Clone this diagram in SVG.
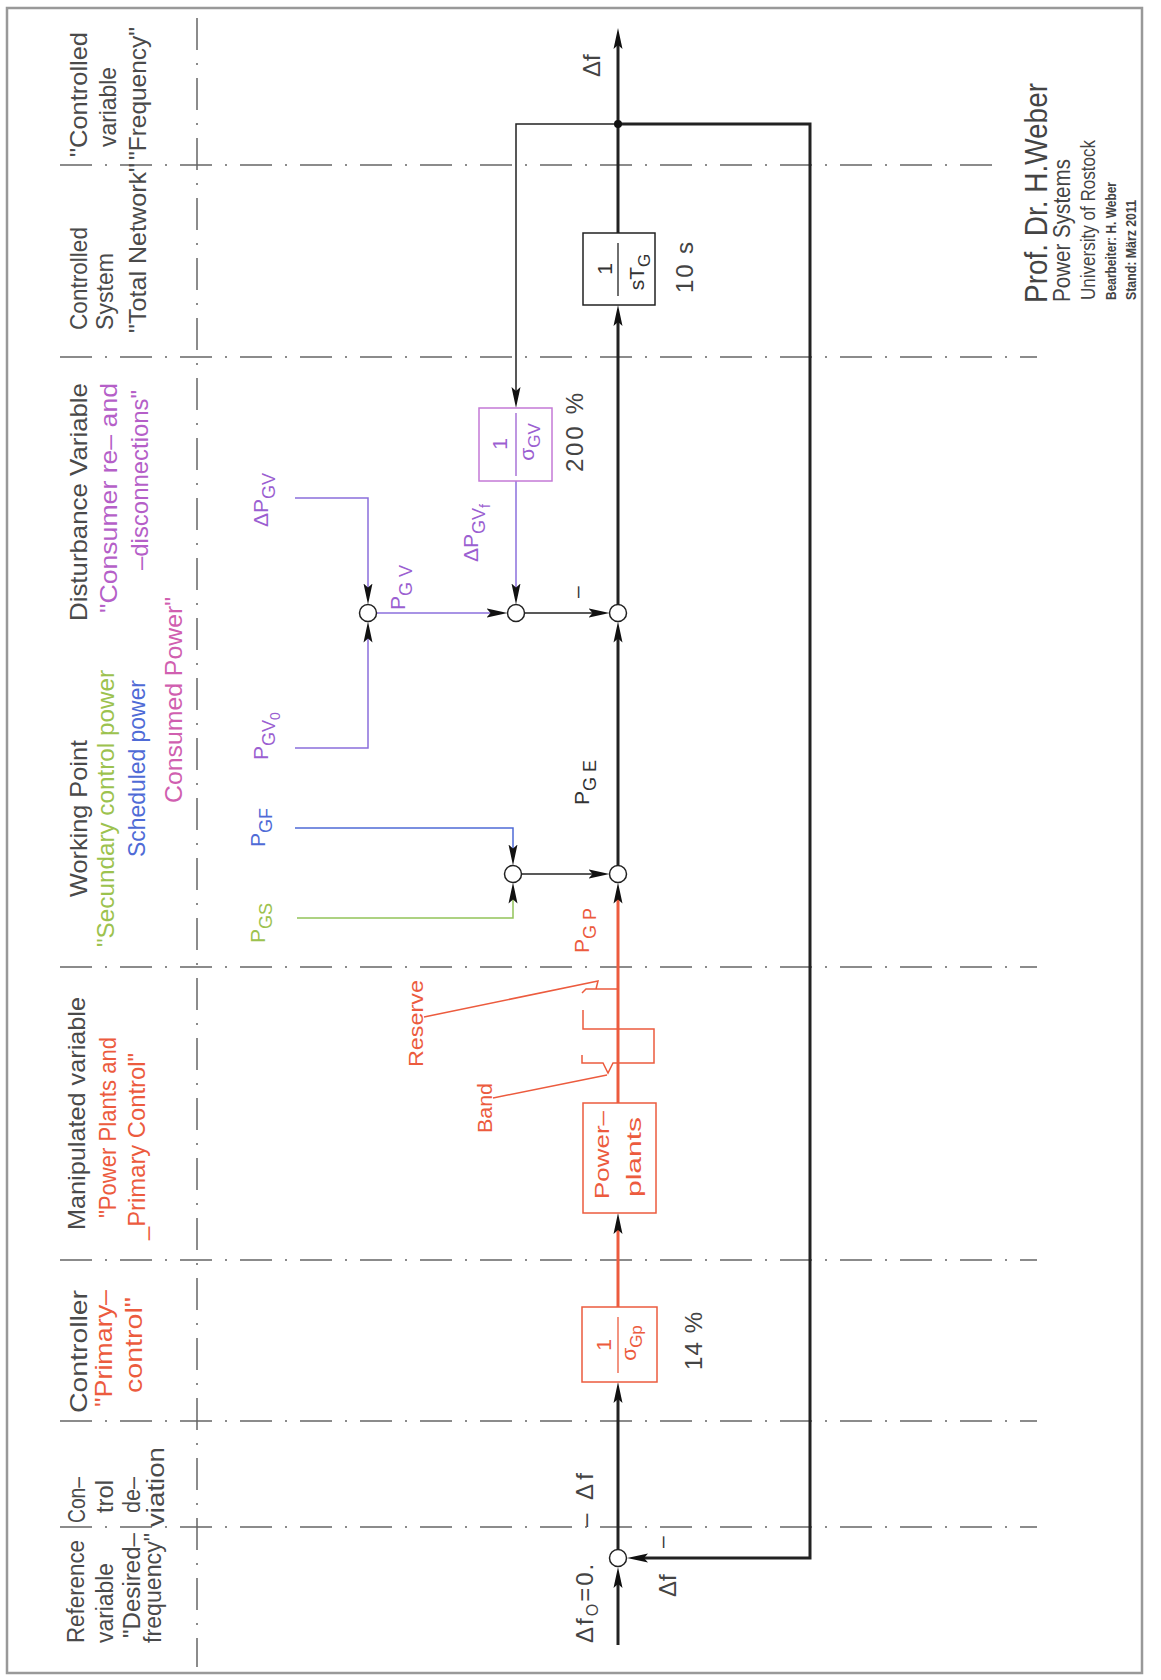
<svg xmlns="http://www.w3.org/2000/svg" width="1161" height="1680" viewBox="0 0 1161 1680">
<style>
.h{font-family:"Liberation Sans",Arial,sans-serif;font-size:24px;fill:#4a4a4a}
.h4{font-family:"Liberation Sans",Arial,sans-serif;font-size:23px;fill:#4a4a4a}
.lp{font-family:"Liberation Sans",Arial,sans-serif;font-size:21px}
.num{font-family:"Liberation Sans",Arial,sans-serif;font-size:24px;fill:#444}
.cr{font-family:"Liberation Sans",Arial,sans-serif;fill:#444}
.dd{stroke:#666;stroke-width:1.5;stroke-dasharray:32 13 2 13;fill:none}
.thick{stroke:#222;stroke-width:3;fill:none}
.thin{stroke:#222;stroke-width:1.5;fill:none}
.redT{stroke:#ec5b3e;stroke-width:3;fill:none}
.redt{stroke:#ec5b3e;stroke-width:1.5;fill:none}
.purl{stroke:#8b6fdc;stroke-width:1.5;fill:none}
.bluel{stroke:#4f6bd6;stroke-width:1.5;fill:none}
.greenl{stroke:#93c45a;stroke-width:1.5;fill:none}
.sum{fill:#fff;stroke:#222;stroke-width:1.5}
.red{fill:#ec5b3e}
.pur{fill:#9b5fd1}
.mag{fill:#b55fc8}
.pink{fill:#d05fb0}
.blue{fill:#4f6bd6}
.green{fill:#9cc24e}
.blk{fill:#333}
</style>
<defs>
<marker id="ah" markerUnits="userSpaceOnUse" markerWidth="22" markerHeight="10" viewBox="0 0 22 10" refX="11" refY="5" orient="auto">
<path d="M0,0.5 L21,5 L0,9.5 L4,5 z" fill="#111"/>
</marker>
</defs>
<rect x="0" y="0" width="1161" height="1680" fill="#fff"/>
<rect x="7" y="8" width="1135" height="1665" fill="none" stroke="#999" stroke-width="2.5"/>

<g id="grid">
<line class="dd" x1="197" y1="18" x2="197" y2="1667"/>
<line class="dd" x1="60" y1="165" x2="1000" y2="165"/>
<line class="dd" x1="60" y1="357" x2="1037" y2="357"/>
<line class="dd" x1="60" y1="967" x2="1037" y2="967"/>
<line class="dd" x1="60" y1="1260" x2="1037" y2="1260"/>
<line class="dd" x1="60" y1="1421" x2="1037" y2="1421"/>
<line class="dd" x1="60" y1="1527" x2="1037" y2="1527"/>
</g>

<g id="headers">
<text class="h" transform="translate(87 157) rotate(-90)" textLength="125" lengthAdjust="spacingAndGlyphs">"Controlled</text>
<text class="h" transform="translate(116 147) rotate(-90)" textLength="80" lengthAdjust="spacingAndGlyphs">variable</text>
<text class="h" transform="translate(146 160) rotate(-90)" textLength="133" lengthAdjust="spacingAndGlyphs">"Frequency"</text>

<text class="h" transform="translate(87 330) rotate(-90)" textLength="103" lengthAdjust="spacingAndGlyphs">Controlled</text>
<text class="h" transform="translate(113 330) rotate(-90)" textLength="77" lengthAdjust="spacingAndGlyphs">System</text>
<text class="h" transform="translate(146 333) rotate(-90)" textLength="170" lengthAdjust="spacingAndGlyphs">"Total Network"</text>

<text class="h" transform="translate(87 621) rotate(-90)" textLength="238" lengthAdjust="spacingAndGlyphs">Disturbance Variable</text>
<text class="h mag" transform="translate(117 613) rotate(-90)" textLength="230" lengthAdjust="spacingAndGlyphs">"Consumer re– and</text>
<text class="h mag" transform="translate(148 570) rotate(-90)" textLength="180" lengthAdjust="spacingAndGlyphs">–disconnections"</text>

<text class="h" transform="translate(87 897) rotate(-90)" textLength="157" lengthAdjust="spacingAndGlyphs">Working Point</text>
<text class="h green" transform="translate(114 947) rotate(-90)" textLength="277" lengthAdjust="spacingAndGlyphs">"Secundary control power</text>
<text class="h blue" transform="translate(145 857) rotate(-90)" textLength="177" lengthAdjust="spacingAndGlyphs">Scheduled power</text>
<text class="h pink" transform="translate(182 803) rotate(-90)" textLength="206" lengthAdjust="spacingAndGlyphs">Consumed Power"</text>

<text class="h" transform="translate(85 1230) rotate(-90)" textLength="233" lengthAdjust="spacingAndGlyphs">Manipulated variable</text>
<text class="h red" transform="translate(116 1218) rotate(-90)" textLength="181" lengthAdjust="spacingAndGlyphs">"Power Plants and</text>
<text class="h red" transform="translate(145 1240) rotate(-90)" textLength="187" lengthAdjust="spacingAndGlyphs">_Primary Control"</text>

<text class="h" transform="translate(87 1413) rotate(-90)" textLength="123" lengthAdjust="spacingAndGlyphs">Controller</text>
<text class="h red" transform="translate(112 1407) rotate(-90)" textLength="117" lengthAdjust="spacingAndGlyphs">"Primary–</text>
<text class="h red" transform="translate(142 1393) rotate(-90)" textLength="96" lengthAdjust="spacingAndGlyphs">control"</text>

<text class="h4" transform="translate(85 1523) rotate(-90)" textLength="46" lengthAdjust="spacingAndGlyphs">Con–</text>
<text class="h4" transform="translate(113 1513) rotate(-90)" textLength="33" lengthAdjust="spacingAndGlyphs">trol</text>
<text class="h4" transform="translate(140 1513) rotate(-90)" textLength="36" lengthAdjust="spacingAndGlyphs">de–</text>
<text class="h4" transform="translate(164 1527) rotate(-90)" textLength="80" lengthAdjust="spacingAndGlyphs">viation</text>

<text class="h4" transform="translate(84 1643) rotate(-90)" textLength="103" lengthAdjust="spacingAndGlyphs">Reference</text>
<text class="h4" transform="translate(113 1643) rotate(-90)" textLength="80" lengthAdjust="spacingAndGlyphs">variable</text>
<text class="h4" transform="translate(140 1638) rotate(-90)" textLength="105" lengthAdjust="spacingAndGlyphs">"Desired–</text>
<text class="h4" transform="translate(161 1643) rotate(-90)" textLength="110" lengthAdjust="spacingAndGlyphs">frequency"</text>
</g>

<g id="connectors">
<path class="thick" d="M618 1645 V1577" marker-end="url(#ah)"/>
<path class="thick" d="M618 124 H810 V1558 H637" marker-end="url(#ah)"/>
<path class="thick" d="M618 1549.5 V1392" marker-end="url(#ah)"/>
<path class="thick" d="M618 233 V38" marker-end="url(#ah)"/>
<path class="thick" d="M618 604.5 V315" marker-end="url(#ah)"/>
<path class="thick" d="M618 865.5 V631.5" marker-end="url(#ah)"/>
<path class="redT" d="M618 1307 V1223" marker-end="url(#ah)"/>
<path class="redT" d="M618 1103 V892.5" marker-end="url(#ah)"/>
<path class="thin" d="M618 124 H516 V398" marker-end="url(#ah)"/>
<path class="thin" d="M521.5 874 H599.5" marker-end="url(#ah)"/>
<path class="thin" d="M524.5 613 H599.5" marker-end="url(#ah)"/>
<path class="purl" d="M516 481 V594.5" marker-end="url(#ah)"/>
<path class="purl" d="M376.5 613 H497.5" marker-end="url(#ah)"/>
<path class="purl" d="M295 498 H368 V594.5" marker-end="url(#ah)"/>
<path class="purl" d="M295 748 H368 V631.5" marker-end="url(#ah)"/>
<path class="bluel" d="M295 828 H513 V855.5" marker-end="url(#ah)"/>
<path class="greenl" d="M297 918 H513 V892.5" marker-end="url(#ah)"/>
<circle cx="618" cy="124" r="4" fill="#111"/>
<path class="redt" d="M424 1017 L598 981 L596 989 M582 993 L586 989 H618"/>
<path class="redt" d="M583 1010 V1029 H654 V1063 H613 L608 1073 L603 1063 H582 V1055"/>
<path class="redt" d="M493 1098 L607 1075"/>
</g>

<g id="sum-ref"><circle class="sum" cx="618" cy="1558" r="8.5"/></g>
<g id="sum-wp"><circle class="sum" cx="618" cy="874" r="8.5"/></g>
<g id="sum-dist"><circle class="sum" cx="618" cy="613" r="8.5"/></g>
<g id="sum-gs"><circle class="sum" cx="513" cy="874" r="8.5"/></g>
<g id="sum-gv"><circle class="sum" cx="516" cy="613" r="8.5"/></g>
<g id="sum-gv0"><circle class="sum" cx="368" cy="613" r="8.5"/></g>

<g id="box-stg">
<rect x="583" y="233" width="72" height="72" fill="#fff" stroke="#222" stroke-width="1.5"/>
<line x1="618" y1="243" x2="618" y2="296" stroke="#222" stroke-width="1.3"/>
<text class="lp blk" font-size="19" text-anchor="middle" transform="translate(612 269) rotate(-90)">1</text>
<text class="lp blk" text-anchor="middle" transform="translate(644 272) rotate(-90)">sT<tspan dy="6" font-size="17">G</tspan></text>
</g>

<g id="box-sgv">
<rect x="479" y="408" width="73" height="73" fill="#fff" stroke="#c47ad6" stroke-width="1.5"/>
<line x1="516" y1="413" x2="516" y2="476" stroke="#9b5fd1" stroke-width="1.3"/>
<text class="lp pur" font-size="19" text-anchor="middle" transform="translate(507 444) rotate(-90)">1</text>
<text class="lp pur" text-anchor="middle" transform="translate(534 442) rotate(-90)">σ<tspan dy="6" font-size="17">GV</tspan></text>
</g>

<g id="box-sgp">
<rect x="582" y="1307" width="75" height="75" fill="#fff" stroke="#ec5b3e" stroke-width="1.5"/>
<line x1="618" y1="1317" x2="618" y2="1373" stroke="#ec5b3e" stroke-width="1.3"/>
<text class="lp red" font-size="19" text-anchor="middle" transform="translate(611 1345) rotate(-90)">1</text>
<text class="lp red" text-anchor="middle" transform="translate(636 1343) rotate(-90)">σ<tspan dy="6" font-size="17">Gp</tspan></text>
</g>

<g id="box-plants">
<rect x="583" y="1103" width="73" height="110" fill="#fff" stroke="#ec5b3e" stroke-width="1.5"/>
<text class="lp red" text-anchor="middle" transform="translate(609 1155) rotate(-90)" textLength="88" lengthAdjust="spacingAndGlyphs">Power–</text>
<text class="lp red" text-anchor="middle" transform="translate(641 1157) rotate(-90)" textLength="80" lengthAdjust="spacingAndGlyphs">plants</text>
</g>

<g id="labels">
<text class="lp pur" transform="translate(268 527) rotate(-90)">ΔP<tspan dy="7" font-size="18">GV</tspan></text>
<text class="lp pur" transform="translate(268 760) rotate(-90)">P<tspan dy="7" font-size="18">GV</tspan><tspan dy="5" font-size="14">0</tspan></text>
<text class="lp pur" transform="translate(405 610) rotate(-90)">P<tspan dy="7" font-size="18">G V</tspan></text>
<text class="lp pur" transform="translate(478 562) rotate(-90)">ΔP<tspan dy="7" font-size="18">GV</tspan><tspan dy="5" font-size="14">f</tspan></text>
<text class="lp blue" transform="translate(265 847) rotate(-90)">P<tspan dy="7" font-size="18">GF</tspan></text>
<text class="lp green" transform="translate(265 943) rotate(-90)">P<tspan dy="7" font-size="18">GS</tspan></text>
<text class="lp blk" transform="translate(589 805) rotate(-90)">P<tspan dy="7" font-size="18">G E</tspan></text>
<text class="lp red" transform="translate(589 953) rotate(-90)">P<tspan dy="7" font-size="18">G P</tspan></text>
<text class="lp red" transform="translate(423 1067) rotate(-90)" textLength="87" lengthAdjust="spacingAndGlyphs">Reserve</text>
<text class="lp red" transform="translate(492 1133) rotate(-90)" textLength="50" lengthAdjust="spacingAndGlyphs">Band</text>
<text class="lp blk" font-size="22" transform="translate(584 598) rotate(-90)">–</text>
<text class="lp blk" font-size="22" transform="translate(669 1548) rotate(-90)">–</text>
<text class="num" font-size="22" transform="translate(600 77) rotate(-90)">Δf</text>
<text class="num" font-size="22" transform="translate(676 1597) rotate(-90)">Δf</text>
<text class="num" font-size="23" letter-spacing="2" transform="translate(593 1643) rotate(-90)">Δf<tspan dy="5" font-size="16">O</tspan><tspan dy="-5">=0.</tspan></text>
<text class="num" font-size="23" transform="translate(593 1527) rotate(-90)" textLength="54">– Δf</text>
<text class="num" transform="translate(693 293) rotate(-90)" textLength="51">10 s</text>
<text class="num" transform="translate(583 472) rotate(-90)" textLength="79">200 %</text>
<text class="num" transform="translate(702 1370) rotate(-90)" textLength="58">14 %</text>
</g>

<g id="credits">
<text class="cr" font-size="32" transform="translate(1047 303) rotate(-90)" textLength="220" lengthAdjust="spacingAndGlyphs">Prof. Dr. H.Weber</text>
<text class="cr" font-size="23" transform="translate(1070 302) rotate(-90)" textLength="143" lengthAdjust="spacingAndGlyphs">Power Systems</text>
<text class="cr" font-size="21" transform="translate(1095 300) rotate(-90)" textLength="160" lengthAdjust="spacingAndGlyphs">University of Rostock</text>
<text class="cr" font-size="15" font-weight="bold" transform="translate(1116 300) rotate(-90)" textLength="118" lengthAdjust="spacingAndGlyphs">Bearbeiter: H. Weber</text>
<text class="cr" font-size="15" font-weight="bold" transform="translate(1136 300) rotate(-90)" textLength="100" lengthAdjust="spacingAndGlyphs">Stand: März 2011</text>
</g>
</svg>
